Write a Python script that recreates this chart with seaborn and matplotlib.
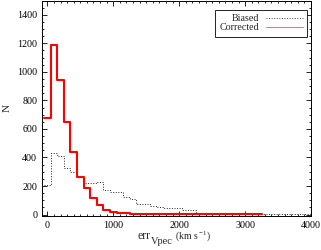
# Histogram of peculiar velocity errors, biased vs corrected

import matplotlib
matplotlib.use('Agg')
import matplotlib.pyplot as plt
from matplotlib.lines import Line2D
from matplotlib.ticker import MultipleLocator
import seaborn as sns
import pandas as pd
import numpy as np

# bin centres (100 km/s wide bins)
biased_centers = np.arange(0, 4100, 100)
biased_counts = [205, 430, 410, 325, 295, 265, 220, 220, 230, 170,
                 160, 155, 120, 110, 75, 72, 62, 50, 48, 43,
                 43, 33, 30, 14, 12, 11, 10, 9, 8, 7,
                 6, 3, 3, 2, 2, 2, 2, 1, 1, 1, 1]

corrected_centers = np.arange(0, 3300, 100)
corrected_counts = [680, 1190, 940, 650, 435, 265, 185, 115, 65, 35,
                    20, 12, 8, 5, 4, 3, 2, 2, 1, 1,
                    1, 1, 1, 1, 1, 1, 1, 1, 1, 1,
                    1, 1, 1]

biased_df = pd.DataFrame({'err': biased_centers, 'N': biased_counts})
corrected_df = pd.DataFrame({'err': corrected_centers, 'N': corrected_counts})

sns.set_style('ticks')
plt.rcParams['font.family'] = ['Liberation Serif', 'DejaVu Serif']
plt.rcParams['mathtext.fontset'] = 'custom'
plt.rcParams['mathtext.rm'] = 'Liberation Serif'
plt.rcParams['mathtext.it'] = 'Liberation Serif:italic'

fig = plt.figure(figsize=(3.21, 2.5), dpi=100)
ax = fig.add_axes([0.131, 0.136, 0.838, 0.862])

sns.histplot(data=biased_df, x='err', weights='N',
             binwidth=100, binrange=(-50, 4050), element='step', fill=False,
             color='#222222', linestyle=':', linewidth=0.7, ax=ax)
sns.histplot(data=corrected_df, x='err', weights='N',
             binwidth=100, binrange=(-50, 3250), element='step', fill=False,
             color='#ff0000', linewidth=1.5, ax=ax)

ax.set_xlim(-80, 4000)
ax.set_ylim(-10, 1500)
ax.xaxis.set_major_locator(MultipleLocator(1000))
ax.xaxis.set_minor_locator(MultipleLocator(100))
ax.yaxis.set_major_locator(MultipleLocator(200))
ax.yaxis.set_minor_locator(MultipleLocator(50))
ax.tick_params(which='both', direction='in', top=True, right=True,
               labelsize=7.2, colors='black', width=0.6)
ax.tick_params(which='major', length=3.5)
ax.tick_params(which='minor', length=1.6)
for s in ax.spines.values():
    s.set_linewidth(0.7)
    s.set_color('black')

# x label built IDL-style: err, lowered Vpec, small units
ax.set_xlabel('')
ax.set_ylabel('N', fontsize=8, labelpad=4)
fig.text(137 / 321, 1 - 239 / 250, 'err', fontsize=8.5, ha='left', va='baseline')
fig.text(151 / 321, 1 - 244 / 250, 'Vpec', fontsize=7.5, ha='left', va='baseline')
fig.text(175 / 321, 1 - 238.5 / 250, r'(km s$^{\rm -1}$)', fontsize=7,
         ha='left', va='baseline')

# legend with line samples on the right
handles = [Line2D([], [], color='#444444', linestyle=':', linewidth=0.7),
           Line2D([], [], color='#ff7070', linewidth=0.8)]
leg = ax.legend(handles, ['Biased', 'Corrected'], loc='upper right',
                bbox_to_anchor=(0.985, 0.958), borderaxespad=0, markerfirst=False,
                fontsize=7.2, frameon=True, fancybox=False, edgecolor='black',
                framealpha=1, labelspacing=0.0, borderpad=0.45, handlelength=3.7,
                handletextpad=0.6)
leg.get_frame().set_linewidth(0.6)

fig.savefig('out.png', dpi=100)
